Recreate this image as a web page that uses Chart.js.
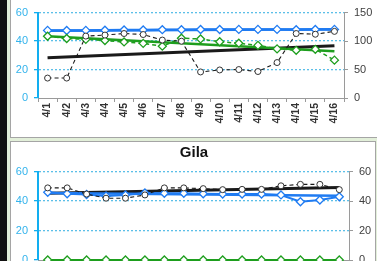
<!DOCTYPE html>
<html>
<head>
<meta charset="utf-8">
<script src="https://cdn.jsdelivr.net/npm/chart.js@4.4.1/dist/chart.umd.min.js"></script>
<style>
  body { margin: 0; width: 377px; height: 261px; overflow: hidden; background: #e2efd9; position: relative; font-family: "Liberation Sans", Arial, sans-serif; }
  #bar { position: absolute; left: 0; top: 0; width: 7px; height: 261px; background: #111; }
  .panel { position: absolute; background: #fff; border: 1px solid #a5a5a5; }
  #p1 { left: 10px; top: -4px; width: 380px; height: 140px; }
  #p2 { left: 10px; top: 141px; width: 364px; height: 140px; }
  canvas { position: absolute; }
  #c1 { left: 11px; top: 0; }
  #c2 { left: 11px; top: 142px; }
</style>
</head>
<body>
<div id="bar"></div>
<div class="panel" id="p1"></div>
<div class="panel" id="p2"></div>
<canvas id="c1" width="366" height="136"></canvas>
<canvas id="c2" width="366" height="160"></canvas>
<script>
// Datas (eixo x)
const dates = ['4/1', '4/2', '4/3', '4/4', '4/5', '4/6', '4/7', '4/8', '4/9', '4/10', '4/11', '4/12', '4/13', '4/14', '4/15', '4/16'];

// Gráfico de cima (título fora do recorte)
const topBlue = [47.5, 47.4, 47.5, 47.6, 47.8, 47.8, 48, 48, 48.1, 48.1, 48.2, 48.2, 48.2, 48, 48.1, 48.2];
const topGreen = [43.4, 41.8, 41.2, 40.4, 39.4, 38.4, 36.4, 42, 41.5, 39.5, 38.5, 37, 34.5, 33.5, 34.2, 26.6];
const topBlack = [14, 14, 43.5, 44.2, 45.3, 44.6, 40.7, 39.9, 18.3, 19.7, 20, 18.6, 24.9, 45.3, 44.8, 46.8];
const topBlueTrend = [47.3, 48.3];
const topGreenTrend = [43.4, 32.9];
const topBlackTrend = [28.2, 36.7];
const topLeftTicks = { max: 60, step: 20 };
const topRightTicks = { max: 150, step: 50 };

// Gila
const gilaTitle = 'Gila';
const gilaBlue = [46, 45, 44.5, 43.5, 44.2, 45.5, 45.3, 45.3, 45, 44.8, 44.8, 44.8, 44.2, 39.6, 40.8, 43];
const gilaGreen = [0, 0, 0, 0, 0, 0, 0, 0, 0, 0, 0, 0, 0, 0, 0, 0];
const gilaBlack = [49, 49, 44.8, 42, 42, 44.2, 49, 49, 48.5, 47.8, 48, 48, 50.4, 51.4, 51.4, 47.8];
const gilaBlueTrend = [45.5, 43.7];
const gilaGreenTrend = [0, 0];
const gilaBlackTrend = [45.3, 49.2];
const gilaLeftTicks = { max: 60, step: 20 };
const gilaRightTicks = { max: 60, step: 20 };

const BLUE = '#1f7bf2';
const GREEN = '#1e9e1e';
const BLACK = '#1a1a1a';
const AXIS_BLUE = '#12aef0';
const GRID_BLUE = '#5cbfe8';
const FONT = '"Liberation Sans", Arial, sans-serif';

// linha de tendência: só o primeiro e o último ponto
function trend(vals, color, width) {
  return {
    type: 'line',
    data: [{ x: dates[0], y: vals[0] }, { x: dates[dates.length - 1], y: vals[1] }],
    borderColor: color,
    borderWidth: width,
    pointRadius: 0,
    fill: false,
    tension: 0,
    clip: false,
    order: 5
  };
}

function series(vals, color, opts) {
  return Object.assign({
    type: 'line',
    data: vals,
    borderColor: color,
    borderWidth: 1.3,
    pointStyle: 'rectRot',
    pointRadius: 4,
    pointBorderWidth: 1.3,
    pointBackgroundColor: '#fff',
    pointBorderColor: color,
    fill: false,
    tension: 0,
    clip: false
  }, opts);
}

function buildChart(canvas, cfg) {
  return new Chart(canvas, {
    type: 'line',
    data: { labels: dates, datasets: cfg.datasets },
    options: {
      responsive: false,
      animation: false,
      layout: { padding: { top: cfg.padTop, left: 0, right: 0, bottom: 0 } },
      plugins: {
        legend: { display: false },
        tooltip: { enabled: false },
        title: cfg.title ? {
          display: true,
          text: cfg.title,
          color: '#111',
          font: { family: FONT, size: 15, weight: 'bold' },
          padding: { top: 2, bottom: cfg.titleGap }
        } : { display: false }
      },
      scales: {
        x: {
          type: 'category',
          offset: true,
          afterFit: s => { s.height = cfg.xHeight; },
          grid: { offset: true, drawOnChartArea: false, tickLength: 4, color: '#9a9a9a' },
          border: { color: '#9a9a9a', width: 1 },
          ticks: {
            autoSkip: false, minRotation: 90, maxRotation: 90, padding: 1,
            color: '#333', font: { family: FONT, size: 10.5, weight: 'bold' }
          }
        },
        y: {
          position: 'left',
          min: 0, max: cfg.left.max,
          afterFit: s => { s.width = 27; },
          ticks: { stepSize: cfg.left.step, color: '#33b3ec', padding: 6, font: { family: FONT, size: 11 } },
          grid: {
            color: ctx => ctx.tick && ctx.tick.value === 0 ? 'rgba(0,0,0,0)' : GRID_BLUE,
            lineWidth: 1.3,
            tickColor: AXIS_BLUE,
            tickLength: 4,
            tickBorderDash: []
          },
          border: { color: AXIS_BLUE, width: 2, dash: [2, 2] }
        },
        y1: {
          position: 'right',
          min: 0, max: cfg.right.max,
          afterFit: s => { s.width = cfg.rightWidth; },
          ticks: { stepSize: cfg.right.step, color: '#404040', padding: 6, font: { family: FONT, size: 11 } },
          grid: { drawOnChartArea: false, tickLength: 4, color: '#9a9a9a' },
          border: { color: '#9a9a9a', width: 1 }
        }
      }
    }
  });
}

buildChart(document.getElementById('c1'), {
  padTop: 10,
  xHeight: 38,
  rightWidth: 33,
  left: topLeftTicks,
  right: topRightTicks,
  datasets: [
    series(topBlack, BLACK, { borderDash: [4, 3], borderWidth: 1.1, pointStyle: 'circle', pointRadius: 3, pointBorderWidth: 1, pointBorderColor: '#333', order: 1 }),
    series(topGreen, GREEN, { borderDash: [4, 3], borderWidth: 1.5, order: 2 }),
    series(topBlue, BLUE, { borderWidth: 2.5, order: 3 }),
    trend(topBlueTrend, BLUE, 2.5),
    trend(topGreenTrend, GREEN, 2.5),
    trend(topBlackTrend, BLACK, 3)
  ]
});

buildChart(document.getElementById('c2'), {
  padTop: 0,
  title: gilaTitle,
  titleGap: 9.7,
  xHeight: 42,
  rightWidth: 28,
  left: gilaLeftTicks,
  right: gilaRightTicks,
  datasets: [
    series(gilaBlack, BLACK, { borderDash: [4, 3], borderWidth: 1.1, pointStyle: 'circle', pointRadius: 3, pointBorderWidth: 1, pointBorderColor: '#333', order: 1 }),
    series(gilaBlue, BLUE, { borderWidth: 2, order: 2 }),
    series(gilaGreen, GREEN, { borderWidth: 1.5, order: 3 }),
    trend(gilaBlueTrend, BLUE, 2.5),
    trend(gilaGreenTrend, GREEN, 2),
    trend(gilaBlackTrend, BLACK, 3)
  ]
});
</script>
</body>
</html>
